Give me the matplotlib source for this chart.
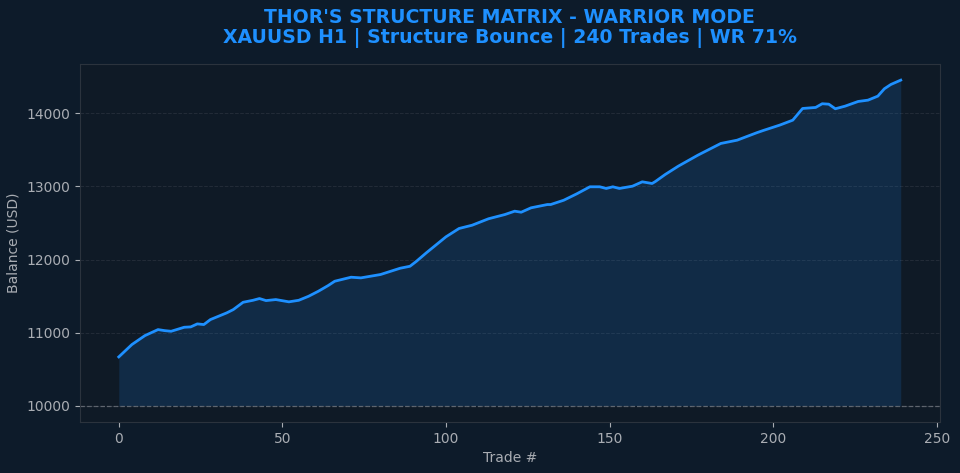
import numpy as np
import matplotlib
matplotlib.use('Agg')
import matplotlib.pyplot as plt

# balance (trade #, USD)
trades = [0, 4, 8, 12, 14, 16, 20, 22, 24, 26, 28, 33, 35, 38, 41, 43, 45, 48,
          52, 55, 58, 61, 64, 66, 71, 74, 80, 86, 89, 91, 94, 100, 104, 108,
          113, 118, 121, 123, 126, 131, 132, 136, 140, 144, 147, 149, 151, 153,
          157, 160, 163, 164, 167, 171, 177, 184, 189, 195, 197, 202, 206, 209,
          213, 215, 217, 219, 222, 226, 229, 232, 234, 236, 239]
balance = [10667, 10836, 10959, 11041, 11027, 11018, 11073, 11078, 11119, 11110,
           11178, 11270, 11315, 11415, 11442, 11466, 11438, 11452, 11421, 11442,
           11497, 11566, 11644, 11703, 11758, 11749, 11795, 11881, 11908, 11977,
           12092, 12311, 12425, 12470, 12558, 12616, 12662, 12648, 12708, 12753,
           12753, 12812, 12900, 12996, 12996, 12973, 12996, 12973, 13004, 13064,
           13041, 13068, 13164, 13278, 13429, 13589, 13634, 13736, 13767, 13840,
           13908, 14068, 14082, 14133, 14127, 14064, 14100, 14164, 14182, 14237,
           14338, 14397, 14456]
start_balance = 10000

title = "THOR'S STRUCTURE MATRIX - WARRIOR MODE\nXAUUSD H1 | Structure Bounce | 240 Trades | WR 71%"

fig_bg = '#0d1b2a'
ax_bg = '#0f1a26'
blue = '#1e90ff'
txt = '#a9adb3'

fig = plt.figure(figsize=(9.6, 4.73), dpi=100, facecolor=fig_bg)
ax = fig.add_axes([0.083, 0.108, 0.896, 0.757], facecolor=ax_bg)

ax.fill_between(trades, start_balance, balance, color=blue, alpha=0.15, lw=0)
ax.plot(trades, balance, color=blue, lw=2)
ax.axhline(start_balance, color='#8a8f96', ls='--', lw=0.9, alpha=0.6)

ax.grid(axis='y', color='#2c3440', ls='--', lw=0.7, alpha=0.7)
ax.set_axisbelow(True)
for s in ax.spines.values():
    s.set_color('#2b333d')
ax.tick_params(colors=txt, labelsize=10)
ax.set_xlabel('Trade #', color=txt, fontsize=10)
ax.set_ylabel('Balance (USD)', color=txt, fontsize=10)
ax.set_yticks([10000, 11000, 12000, 13000, 14000])
ax.set_title(title, color=blue, fontsize=13.6, fontweight='bold', pad=15,
             linespacing=1.1)

plt.savefig('out.png', dpi=100, facecolor=fig_bg)
